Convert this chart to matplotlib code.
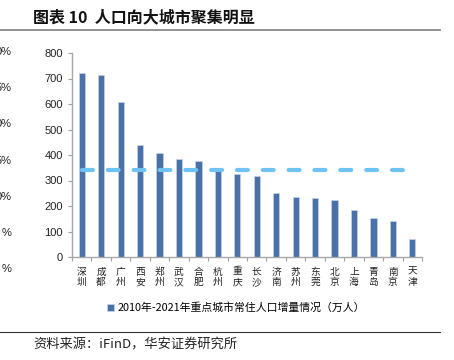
import matplotlib.pyplot as plt

plt.rcParams['font.family'] = ['Noto Sans CJK SC', 'DejaVu Sans']

# cities and population increase 2010-2021 (10k people)
cities = ['深圳', '成都', '广州', '西安', '郑州', '武汉', '合肥', '杭州', '重庆',
          '长沙', '济南', '苏州', '东莞', '北京', '上海', '青岛', '南京', '天津']
growth = [723, 713, 609, 438, 407, 384, 376, 348, 326,
          319, 251, 237, 231, 224, 184, 152, 140, 72]
avg_level = 342
y_ticks = [0, 100, 200, 300, 400, 500, 600, 700, 800]
# clipped labels of a neighbouring chart at the left edge
left_fragments = ['0%', '5%', '0%', '5%', '0%', '%', '%']

title = '图表 10  人口向大城市聚集明显'
legend_label = '2010年-2021年重点城市常住人口增量情况（万人）'
source = '资料来源：iFinD，华安证券研究所'

W, H = 454, 360
fig = plt.figure(figsize=(W / 100, H / 100), dpi=100)
ax = fig.add_axes([72 / W, 1 - 257 / H, 350 / W, 204 / H])

x = list(range(len(cities)))
bars = ax.bar(x, growth, width=0.32, color='#4A70A8', edgecolor='#C5D3E8',
              linewidth=0.5, label=legend_label, zorder=2)
ax.plot(x, [avg_level] * len(x), color='#6EC3F2', lw=3,
        linestyle=(0, (2.6, 3.6)), dash_capstyle='round', zorder=3)

ax.set_xlim(-0.5, len(cities) - 0.5)
ax.set_ylim(0, 800)
ax.set_yticks(y_ticks)
ax.tick_params(axis='y', labelsize=8, colors='#A0A0A0', labelcolor='#222222',
               length=3, width=0.8)
for lab in ax.get_yticklabels():
    lab.set_family(['Liberation Sans', 'DejaVu Sans'])
ax.set_xticks(x, ['\n'.join(c) for c in cities], fontsize=7, linespacing=1.05)
ax.set_xticks([i - 0.5 for i in range(len(cities) + 1)], minor=True)
ax.tick_params(axis='x', which='major', length=0, pad=7, labelcolor='#222222')
ax.tick_params(axis='x', which='minor', length=3, width=0.8, colors='#A0A0A0')
for s in ['top', 'right']:
    ax.spines[s].set_visible(False)
for s in ['left', 'bottom']:
    ax.spines[s].set_color('#A8A8A8')
    ax.spines[s].set_linewidth(1.0)

fig.legend(handles=[bars], loc='center', bbox_to_anchor=(236 / W, 1 - 308 / H),
           frameon=False, fontsize=7.8, handlelength=0.6, handleheight=0.6,
           handletextpad=0.3)

# header and footer
fig.text(33 / W, 1 - 17 / H, title, fontsize=11.5, fontweight='bold',
         va='center', ha='left', color='#111111')
fig.add_artist(plt.Line2D([0, 440 / W], [1 - 29.5 / H] * 2, color='#8A8A8A',
                          lw=1.3, transform=fig.transFigure))
fig.add_artist(plt.Line2D([0, 440 / W], [1 - 332 / H] * 2, color='#333333',
                          lw=0.8, transform=fig.transFigure))
fig.text(33 / W, 1 - 345 / H, source, fontsize=9.5, va='center', ha='left',
         color='#222222')

for i, frag in enumerate(left_fragments):
    fig.text(12 / W, 1 - (52 + i * 36.2) / H, frag, fontsize=8, ha='right',
             va='center', color='#222222',
             family=['Liberation Sans', 'DejaVu Sans'])

fig.savefig('out.png', dpi=100)
